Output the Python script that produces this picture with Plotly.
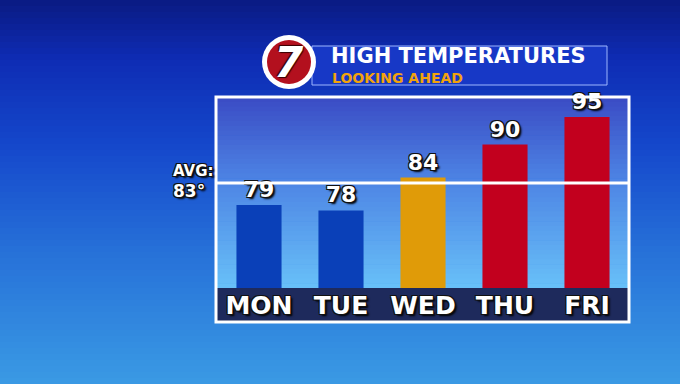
import plotly.graph_objects as go

# ---- data ----
days = ["MON", "TUE", "WED", "THU", "FRI"]
highs = [79, 78, 84, 90, 95]
bar_colors = ["#0a40b8", "#0a40b8", "#e09b08", "#c2001e", "#c2001e"]
avg_temp = 83
title_main = "HIGH TEMPERATURES"
title_sub = "LOOKING AHEAD"
logo_text = "7"

# ---- geometry helpers (pixel -> paper) ----
W, H = 680, 384
L, R, T, B = 218, 628, 100, 288
PW, PH = R - L, B - T


def px(x):
    return (x - L) / PW


def py(y):
    return (B - y) / PH


def hex2rgb(h):
    h = h.lstrip("#")
    return tuple(int(h[i:i + 2], 16) for i in (0, 2, 4))


def interp(stops, t):
    for (t0, c0), (t1, c1) in zip(stops, stops[1:]):
        if t0 <= t <= t1:
            f = 0 if t1 == t0 else (t - t0) / (t1 - t0)
            a, b = hex2rgb(c0), hex2rgb(c1)
            return "rgb(%d,%d,%d)" % tuple(round(a[i] + (b[i] - a[i]) * f) for i in range(3))
    return stops[-1][1]


shapes = []

# background gradient
bg_stops = [(0, "#0a1a82"), (60, "#0e2cb4"), (150, "#1549cc"), (250, "#2670d8"), (384, "#3a9ae4")]
n = 64
for i in range(n):
    y0 = H * i / n
    y1 = H * (i + 1) / n + 1
    shapes.append(dict(type="rect", xref="paper", yref="paper", layer="below",
                       x0=px(0), x1=px(W), y0=py(y1), y1=py(y0),
                       fillcolor=interp(bg_stops, (y0 + y1) / 2), line_width=0))

# panel gradient inside frame
pn_stops = [(97, "#3a4bc4"), (180, "#4d84e4"), (288, "#68c0f8")]
m = 40
for i in range(m):
    y0 = 97 + (288 - 97) * i / m
    y1 = 97 + (288 - 97) * (i + 1) / m + 0.6
    shapes.append(dict(type="rect", xref="paper", yref="paper", layer="below",
                       x0=px(217), x1=px(628), y0=py(min(y1, 288)), y1=py(y0),
                       fillcolor=interp(pn_stops, (y0 + y1) / 2), line_width=0))

# label band
shapes.append(dict(type="rect", xref="paper", yref="paper", layer="below",
                   x0=px(217), x1=px(628), y0=py(321), y1=py(288),
                   fillcolor="#1e2a5c", line_width=0))
# frame
shapes.append(dict(type="rect", xref="paper", yref="paper", layer="above",
                   x0=px(216), x1=px(629), y0=py(322), y1=py(97),
                   line=dict(color="white", width=3), fillcolor="rgba(0,0,0,0)"))
# average line
shapes.append(dict(type="line", xref="paper", yref="y", layer="above",
                   x0=px(216), x1=px(629), y0=avg_temp, y1=avg_temp,
                   line=dict(color="white", width=3)))

# title banner
shapes.append(dict(type="rect", xref="paper", yref="paper", layer="above",
                   x0=px(312), x1=px(607), y0=py(85), y1=py(46),
                   fillcolor="#1738c6", line=dict(color="#9db6ff", width=1)))
# logo
shapes.append(dict(type="circle", xref="paper", yref="paper", layer="above",
                   x0=px(262), x1=px(316), y0=py(89), y1=py(35),
                   fillcolor="white", line_width=0))
shapes.append(dict(type="circle", xref="paper", yref="paper", layer="above",
                   x0=px(267), x1=px(311), y0=py(84), y1=py(40),
                   fillcolor="#b3101e", line_width=0))

outline = "1px 1px 0 #111, -1px -1px 0 #111, 1px -1px 0 #111, -1px 1px 0 #111, 2px 2px 2px #000"

fig = go.Figure()
fig.add_trace(go.Bar(
    x=days, y=highs, marker=dict(color=bar_colors, line_width=0),
    text=[str(v) for v in highs], textposition="outside", cliponaxis=False,
    textfont=dict(family="DejaVu Sans", size=22, color="white", weight="bold", shadow=outline),
    hoverinfo="skip",
))

annotations = [
    dict(xref="paper", yref="paper", x=px(171), y=py(171), xanchor="left", yanchor="middle",
         text="AVG:", showarrow=False,
         font=dict(family="DejaVu Sans", size=15, color="white", weight="bold", shadow=outline)),
    dict(xref="paper", yref="paper", x=px(171), y=py(191), xanchor="left", yanchor="middle",
         text=f"{avg_temp}°", showarrow=False,
         font=dict(family="DejaVu Sans", size=17, color="white", weight="bold", shadow=outline)),
    dict(xref="paper", yref="paper", x=px(289), y=py(63), xanchor="center", yanchor="middle",
         text=f"<i>{logo_text}</i>", showarrow=False,
         font=dict(family="DejaVu Sans", size=42, color="white", weight="bold",
                   shadow="1px 1px 1px #300, -1px -1px 1px #300")),
    dict(xref="paper", yref="paper", x=px(329), y=py(56), xanchor="left", yanchor="middle",
         text=title_main, showarrow=False,
         font=dict(family="DejaVu Sans", size=21, color="white", weight="bold")),
    dict(xref="paper", yref="paper", x=px(330), y=py(78), xanchor="left", yanchor="middle",
         text=title_sub, showarrow=False,
         font=dict(family="DejaVu Sans", size=14, color="#f2a30c", weight="bold")),
]

fig.update_layout(
    width=W, height=H,
    margin=dict(l=L, r=W - R, t=T, b=H - B, pad=0),
    paper_bgcolor="#1a55d0", plot_bgcolor="rgba(0,0,0,0)",
    bargap=0.45, showlegend=False,
    shapes=shapes, annotations=annotations,
    xaxis=dict(showgrid=False, zeroline=False, showline=False, ticks="",
               ticklabelstandoff=0,
               tickfont=dict(family="DejaVu Sans", size=25, color="white", weight="bold", shadow=outline)),
    yaxis=dict(range=[63.9, 98.1], visible=False, showgrid=False, zeroline=False),
)

fig.write_html("out.html", config={"displayModeBar": False},
               post_script="document.body.style.margin='0';document.body.style.overflow='hidden';")
